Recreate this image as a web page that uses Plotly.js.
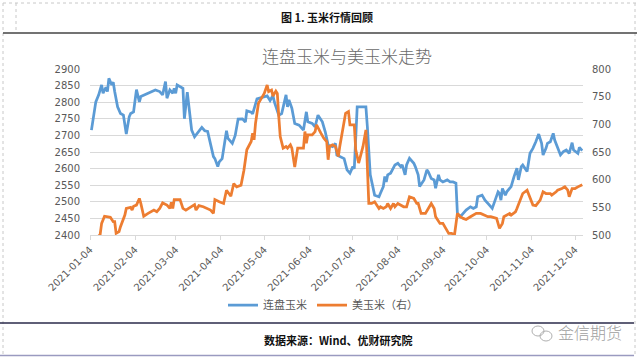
<!DOCTYPE html>
<html><head><meta charset="utf-8">
<script src="https://cdn.plot.ly/plotly-3.0.1.min.js"></script>
<style>html,body{margin:0;padding:0;background:#fff;}#chart{width:640px;height:359px;}</style>
</head><body><div id="chart"></div>
<script>
const figureTitle = '图 1. 玉米行情回顾';
const chartTitle = '连盘玉米与美玉米走势';
const seriesNames = ['连盘玉米', '美玉米（右）'];
const sourceText = '数据来源：Wind、优财研究院';
const watermarkText = '金信期货';
const tickDates = ['2021-01-04','2021-02-04','2021-03-04','2021-04-04','2021-05-04','2021-06-04','2021-07-04','2021-08-04','2021-09-04','2021-10-04','2021-11-04','2021-12-04'];
const leftTicks = [2400,2450,2500,2550,2600,2650,2700,2750,2800,2850,2900];
const rightTicks = [500,550,600,650,700,750,800];

const dalianDates = ['2021-01-05','2021-01-06','2021-01-08','2021-01-10','2021-01-12','2021-01-13','2021-01-15','2021-01-16','2021-01-17','2021-01-19','2021-01-20','2021-01-21','2021-01-23','2021-01-25','2021-01-27','2021-01-29','2021-01-31','2021-02-01','2021-02-03','2021-02-05','2021-02-07','2021-02-08','2021-02-18','2021-02-21','2021-02-23','2021-02-25','2021-02-26','2021-02-28','2021-03-02','2021-03-03','2021-03-04','2021-03-05','2021-03-09','2021-03-10','2021-03-12','2021-03-15','2021-03-17','2021-03-22','2021-03-24','2021-03-26','2021-03-30','2021-03-31','2021-04-02','2021-04-03','2021-04-05','2021-04-08','2021-04-09','2021-04-12','2021-04-14','2021-04-16','2021-04-19','2021-04-21','2021-04-22','2021-04-25','2021-04-26','2021-04-29','2021-05-03','2021-05-06','2021-05-08','2021-05-10','2021-05-11','2021-05-14','2021-05-16','2021-05-19','2021-05-20','2021-05-21','2021-05-23','2021-05-25','2021-05-28','2021-05-30','2021-05-31','2021-06-02','2021-06-03','2021-06-06','2021-06-08','2021-06-10','2021-06-13','2021-06-15','2021-06-16','2021-06-17','2021-06-20','2021-06-22','2021-06-23','2021-06-25','2021-06-28','2021-06-30','2021-07-02','2021-07-04','2021-07-05','2021-07-07','2021-07-13','2021-07-14','2021-07-16','2021-07-19','2021-07-22','2021-07-23','2021-07-25','2021-07-26','2021-07-27','2021-07-28','2021-07-30','2021-08-02','2021-08-04','2021-08-06','2021-08-07','2021-08-09','2021-08-10','2021-08-12','2021-08-15','2021-08-16','2021-08-18','2021-08-19','2021-08-22','2021-08-24','2021-08-25','2021-08-27','2021-08-29','2021-08-30','2021-09-01','2021-09-02','2021-09-04','2021-09-07','2021-09-09','2021-09-11','2021-09-13','2021-09-14','2021-09-16','2021-09-18','2021-09-20','2021-09-23','2021-09-25','2021-09-27','2021-09-28','2021-10-01','2021-10-03','2021-10-05','2021-10-08','2021-10-10','2021-10-12','2021-10-13','2021-10-14','2021-10-15','2021-10-17','2021-10-18','2021-10-20','2021-10-21','2021-10-23','2021-10-25','2021-10-26','2021-10-28','2021-10-29','2021-11-01','2021-11-03','2021-11-05','2021-11-07','2021-11-09','2021-11-11','2021-11-12','2021-11-14','2021-11-15','2021-11-17','2021-11-19','2021-11-20','2021-11-22','2021-11-24','2021-11-26','2021-11-28','2021-11-30','2021-12-02','2021-12-03','2021-12-06','2021-12-07','2021-12-09'];
const dalianValues = [2716,2746,2801,2822,2852,2827,2845,2832,2872,2852,2860,2832,2786,2766,2761,2704,2756,2766,2771,2838,2801,2817,2837,2832,2822,2862,2812,2837,2827,2842,2827,2852,2842,2750,2830,2716,2696,2724,2714,2712,2636,2630,2606,2620,2630,2714,2691,2676,2700,2749,2750,2740,2774,2770,2765,2810,2815,2819,2805,2820,2800,2761,2766,2822,2786,2807,2782,2736,2731,2721,2716,2771,2741,2736,2726,2761,2741,2711,2691,2671,2666,2676,2641,2636,2630,2596,2586,2606,2600,2786,2786,2726,2581,2520,2515,2526,2546,2576,2560,2581,2586,2611,2616,2606,2611,2581,2611,2631,2616,2606,2581,2546,2566,2596,2590,2570,2566,2541,2581,2566,2560,2566,2560,2560,2556,2465,2455,2465,2475,2485,2480,2485,2515,2520,2505,2495,2480,2505,2530,2525,2505,2540,2520,2530,2540,2546,2576,2601,2566,2606,2611,2591,2646,2661,2681,2704,2676,2641,2661,2676,2681,2706,2686,2666,2641,2651,2656,2646,2678,2656,2646,2664,2654];

const usDates = ['2021-01-04','2021-01-07','2021-01-11','2021-01-12','2021-01-14','2021-01-16','2021-01-18','2021-01-20','2021-01-21','2021-01-22','2021-01-24','2021-01-25','2021-01-27','2021-01-28','2021-01-29','2021-02-01','2021-02-02','2021-02-03','2021-02-05','2021-02-07','2021-02-08','2021-02-10','2021-02-13','2021-02-17','2021-02-19','2021-02-21','2021-02-23','2021-02-26','2021-02-28','2021-03-01','2021-03-02','2021-03-03','2021-03-07','2021-03-09','2021-03-11','2021-03-15','2021-03-17','2021-03-18','2021-03-20','2021-03-23','2021-03-25','2021-03-28','2021-03-30','2021-03-31','2021-04-03','2021-04-06','2021-04-08','2021-04-11','2021-04-13','2021-04-15','2021-04-18','2021-04-20','2021-04-22','2021-04-25','2021-04-26','2021-04-27','2021-04-28','2021-04-30','2021-05-02','2021-05-04','2021-05-06','2021-05-07','2021-05-09','2021-05-10','2021-05-12','2021-05-13','2021-05-14','2021-05-15','2021-05-17','2021-05-19','2021-05-20','2021-05-22','2021-05-23','2021-05-25','2021-05-27','2021-05-29','2021-05-31','2021-06-01','2021-06-02','2021-06-03','2021-06-06','2021-06-08','2021-06-09','2021-06-12','2021-06-14','2021-06-16','2021-06-17','2021-06-18','2021-06-20','2021-06-22','2021-06-24','2021-06-25','2021-06-27','2021-06-29','2021-07-01','2021-07-02','2021-07-05','2021-07-06','2021-07-08','2021-07-11','2021-07-13','2021-07-14','2021-07-15','2021-07-17','2021-07-19','2021-07-22','2021-07-23','2021-07-25','2021-07-27','2021-07-28','2021-07-30','2021-08-01','2021-08-02','2021-08-04','2021-08-06','2021-08-08','2021-08-10','2021-08-12','2021-08-15','2021-08-17','2021-08-18','2021-08-20','2021-08-23','2021-08-25','2021-08-27','2021-08-29','2021-08-30','2021-09-02','2021-09-04','2021-09-06','2021-09-08','2021-09-10','2021-09-12','2021-09-14','2021-09-16','2021-09-18','2021-09-20','2021-09-23','2021-09-25','2021-09-27','2021-09-30','2021-10-03','2021-10-05','2021-10-07','2021-10-10','2021-10-11','2021-10-13','2021-10-15','2021-10-16','2021-10-18','2021-10-20','2021-10-21','2021-10-24','2021-10-25','2021-10-27','2021-10-29','2021-11-01','2021-11-03','2021-11-05','2021-11-07','2021-11-10','2021-11-12','2021-11-14','2021-11-17','2021-11-18','2021-11-21','2021-11-22','2021-11-25','2021-11-27','2021-11-29','2021-11-30','2021-12-02','2021-12-04','2021-12-06','2021-12-08','2021-12-09'];
const usValues = [485,490,501,521,534,533,532,524,524,503,506,515,530,536,548,550,545,552,554,566,557,534,539,545,542,548,558,554,548,559,548,564,564,548,545,551,555,545,553,551,548,545,539,564,560,557,581,570,593,587,590,617,654,669,684,672,702,738,747,756,771,759,762,751,760,756,714,678,657,660,657,663,657,623,657,657,657,687,666,681,681,687,699,684,675,669,636,660,663,660,642,660,687,720,723,699,699,654,630,660,690,623,557,557,560,548,551,548,551,557,548,557,551,557,554,551,551,569,566,557,557,539,539,548,557,548,533,521,521,512,503,503,500,539,533,530,528,533,536,539,539,536,533,533,530,530,512,521,533,536,539,536,542,548,563,575,581,569,554,553,563,578,575,575,572,578,581,584,587,581,569,584,584,587,590,591];

// pixel -> paper helpers for decorations (plot area: x 90..583, y 69..235)
const L = 90, R = 583, T = 69, B = 235;
const PX = x => (x - L) / (R - L);
const PY = y => (B - y) / (B - T);

const cjk = '"Noto Sans CJK SC", "Noto Sans", sans-serif';
const grey = '#595959';

const traces = [
  {x: dalianDates, y: dalianValues, name: seriesNames[0], type: 'scatter', mode: 'lines',
   line: {color: '#5B9BD5', width: 2.75}, yaxis: 'y'},
  {x: usDates, y: usValues, name: seriesNames[1], type: 'scatter', mode: 'lines',
   line: {color: '#ED7D31', width: 2.75}, yaxis: 'y2'}
];

function hline(y, x0, x1, color, width, dash) {
  return {type: 'line', xref: 'paper', yref: 'paper', x0: PX(x0), x1: PX(x1), y0: PY(y), y1: PY(y),
          line: {color: color, width: width, dash: dash || 'solid'}};
}
function vline(x, y0, y1, color, width, dash) {
  return {type: 'line', xref: 'paper', yref: 'paper', x0: PX(x), x1: PX(x), y0: PY(y0), y1: PY(y1),
          line: {color: color, width: width, dash: dash || 'solid'}};
}

const shapes = [
  hline(3, 3, 637, '#c8c8c8', 1, 'dot'),
  vline(3, 3, 356, '#c8c8c8', 1, 'dot'),
  vline(16, 3, 33, '#c8c8c8', 1, 'dot'),
  vline(635, 3, 356, '#c8c8c8', 1, 'dot'),
  hline(33, 3, 637, '#444444', 1.5),
  hline(323, 0, 634, '#2a2a4a', 1.5),
  hline(355.5, 0, 634, '#9a9ac0', 1.5),
  {type: 'circle', xref: 'paper', yref: 'paper', x0: PX(532), x1: PX(544), y0: PY(336), y1: PY(326),
   line: {color: '#b0b0b0', width: 1}},
  {type: 'circle', xref: 'paper', yref: 'paper', x0: PX(540), x1: PX(552), y0: PY(341), y1: PY(331),
   line: {color: '#b0b0b0', width: 1}}
];

const annotations = [
  {text: '<b>' + figureTitle + '</b>', xref: 'paper', yref: 'paper', x: PX(327), y: PY(17),
   xanchor: 'center', yanchor: 'middle', showarrow: false, font: {family: cjk, size: 11, color: '#111'}},
  {text: chartTitle, xref: 'paper', yref: 'paper', x: PX(347), y: PY(55),
   xanchor: 'center', yanchor: 'middle', showarrow: false,
   font: {family: cjk, size: 17, color: '#6a6a6a', weight: 300}},
  {text: '<b>' + sourceText + '</b>', xref: 'paper', yref: 'paper', x: PX(338), y: PY(340),
   xanchor: 'center', yanchor: 'middle', showarrow: false, font: {family: cjk, size: 11, color: '#111'}},
  {text: watermarkText, xref: 'paper', yref: 'paper', x: PX(590), y: PY(332),
   xanchor: 'center', yanchor: 'middle', showarrow: false, font: {family: cjk, size: 16, color: '#a0a0a0', weight: 300}}
];

const tickFont = {family: '"DejaVu Sans", sans-serif', size: 10, color: grey};

const layout = {
  width: 640, height: 359,
  margin: {l: L, r: 640 - R, t: T, b: 359 - B, pad: 0},
  paper_bgcolor: '#ffffff', plot_bgcolor: '#ffffff',
  showlegend: true,
  legend: {orientation: 'h', x: PX(323), y: PY(305), xanchor: 'center', yanchor: 'middle',
           font: {family: cjk, size: 11, color: grey}, bgcolor: 'rgba(0,0,0,0)', traceorder: 'normal'},
  xaxis: {type: 'date', range: ['2021-01-04', '2021-12-09 12:00'], tickmode: 'array',
          tickvals: tickDates, ticktext: tickDates, tickangle: -45, tickfont: tickFont,
          ticks: 'outside', ticklen: 4, tickcolor: '#d9d9d9', showline: true, linecolor: '#d9d9d9',
          linewidth: 1, showgrid: false, zeroline: false, fixedrange: true},
  yaxis: {range: [2400, 2900], tickmode: 'array', tickvals: leftTicks, ticktext: leftTicks.map(String),
          tickfont: tickFont, showgrid: true, gridcolor: '#d9d9d9', gridwidth: 1, zeroline: false,
          showline: false, ticks: 'outside', ticklen: 7, tickcolor: 'rgba(0,0,0,0)'},
  yaxis2: {range: [500, 800], tickmode: 'array', tickvals: rightTicks, ticktext: rightTicks.map(String),
           overlaying: 'y', side: 'right', tickfont: tickFont, showgrid: false, zeroline: false,
           showline: false, ticks: 'outside', ticklen: 6, tickcolor: 'rgba(0,0,0,0)'},
  shapes: shapes,
  annotations: annotations
};

Plotly.newPlot('chart', traces, layout, {staticPlot: true, displayModeBar: false});
</script>
</body></html>
